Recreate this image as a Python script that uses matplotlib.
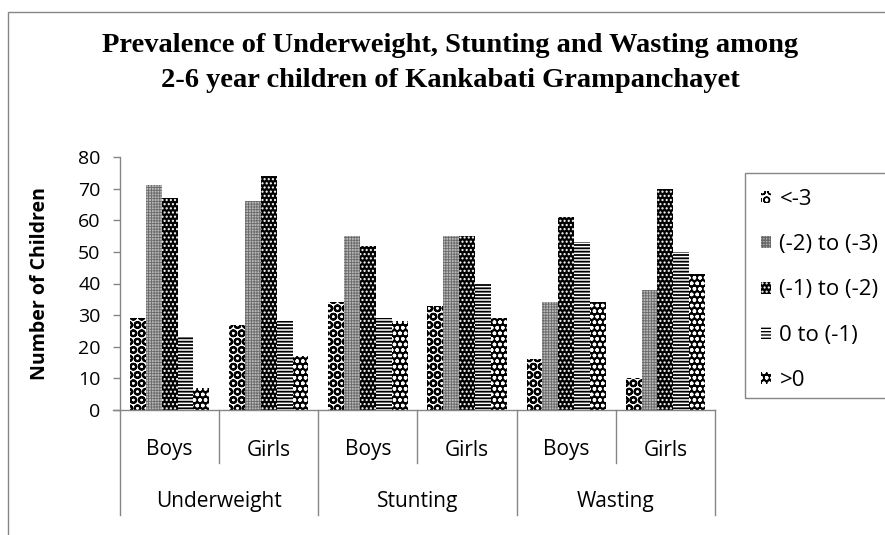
import matplotlib
matplotlib.use("Agg")
import matplotlib.pyplot as plt
from matplotlib.patches import Patch, Rectangle
import numpy as np

# values
groups = ["Underweight", "Stunting", "Wasting"]
sexes = ["Boys", "Girls", "Boys", "Girls", "Boys", "Girls"]
series_names = ["<-3", "(-2) to (-3)", "(-1) to (-2)", "0 to (-1)", ">0"]
below_3 = [29, 27, 34, 33, 16, 10]
minus2_to_minus3 = [71, 66, 55, 55, 34, 38]
minus1_to_minus2 = [67, 74, 52, 55, 61, 70]
zero_to_minus1 = [23, 28, 29, 40, 53, 50]
above_0 = [7, 17, 28, 29, 34, 43]

series = [below_3, minus2_to_minus3, minus1_to_minus2, zero_to_minus1, above_0]
# face colour, hatch colour, hatch pattern, hatch linewidth
styles = [
    ("white", "black", "OO", 1.5),
    ("#b8b8b8", "#6a6a6a", "++++++", 0.6),
    ("black", "white", "....", 1.0),
    ("white", "black", "-----", 1.3),
    ("black", "white", "ooo", 1.0),
]

W, H = 885, 535
fig = plt.figure(figsize=(W / 100, H / 100), dpi=100)
font = "Open Sans"

left, right, bottom, top = 120, 715, 410, 157
ax = fig.add_axes([left / W, 1 - bottom / H, (right - left) / W, (bottom - top) / H])

x = np.arange(len(sexes))
bw = 0.16
handles = []
for i, (vals, (fc, hc, hatch, hlw)) in enumerate(zip(series, styles)):
    with plt.rc_context({"hatch.linewidth": hlw}):
        ax.bar(x + (i - 2) * bw, vals, bw, facecolor=fc, edgecolor=hc,
               hatch=hatch, linewidth=0)
        handles.append(Patch(facecolor=fc, edgecolor=hc, hatch=hatch, linewidth=0,
                             label=series_names[i]))

ax.set_xlim(-0.5, len(sexes) - 0.5)
ax.set_ylim(0, 80)
ax.set_yticks(range(0, 81, 10))
ax.set_xticks([])
for s in ["top", "right"]:
    ax.spines[s].set_visible(False)
for s in ["left", "bottom"]:
    ax.spines[s].set_color("#868686")
    ax.spines[s].set_linewidth(1)
ax.spines["bottom"].set_bounds(-0.5 - 7 / 99.2, len(sexes) - 0.5)
ax.tick_params(axis="y", direction="out", length=5, width=1, color="#868686",
               labelsize=14, pad=9)
for t in ax.get_yticklabels():
    t.set_fontfamily(font)

# two-level category axis
ph = bottom - top
trans = ax.get_xaxis_transform()
for k in range(len(sexes) + 1):
    xs = k - 0.5
    depth = 105 if k % 2 == 0 else 53
    ax.plot([xs, xs], [0, -depth / ph], transform=trans, color="#868686",
            lw=1, clip_on=False)
for k, lab in enumerate(sexes):
    ax.text(k, -40 / ph, lab, transform=trans, ha="center", va="center",
            fontsize=15, family=font)
for g, lab in enumerate(groups):
    ax.text(2 * g + 0.5, -92 / ph, lab, transform=trans, ha="center", va="center",
            fontsize=15, family=font)

fig.text(40 / W, 1 - 284 / H, "Number of Children", rotation=90, ha="center",
         va="center", fontsize=14, fontweight="bold", family=font)

fig.text(450 / W, 1 - 52 / H, "Prevalence of Underweight, Stunting and Wasting among",
         ha="center", va="baseline", fontsize=20.5, fontweight="bold",
         family="Liberation Serif")
fig.text(450 / W, 1 - 87 / H, "2-6 year children of Kankabati Grampanchayet",
         ha="center", va="baseline", fontsize=20.5, fontweight="bold",
         family="Liberation Serif")

leg = fig.legend(handles=handles, loc="upper left",
                 bbox_to_anchor=(745 / W, 1 - 173 / H), frameon=False,
                 prop={"family": font, "size": 16},
                 handlelength=0.45, handleheight=0.45, handletextpad=0.4,
                 labelspacing=1.1, borderpad=0.7, borderaxespad=0)
# legend frame runs past the right edge of the picture
fig.add_artist(Rectangle((745 / W, 1 - 398 / H), 0.5, (398 - 173) / H,
                         transform=fig.transFigure, fill=False,
                         edgecolor="#868686", lw=1))

fig.add_artist(Rectangle((8 / W, -0.1), 1.2, 1.1 - 12 / H, transform=fig.transFigure,
                         fill=False, edgecolor="#868686", lw=1))

fig.savefig("out.png", dpi=100)
